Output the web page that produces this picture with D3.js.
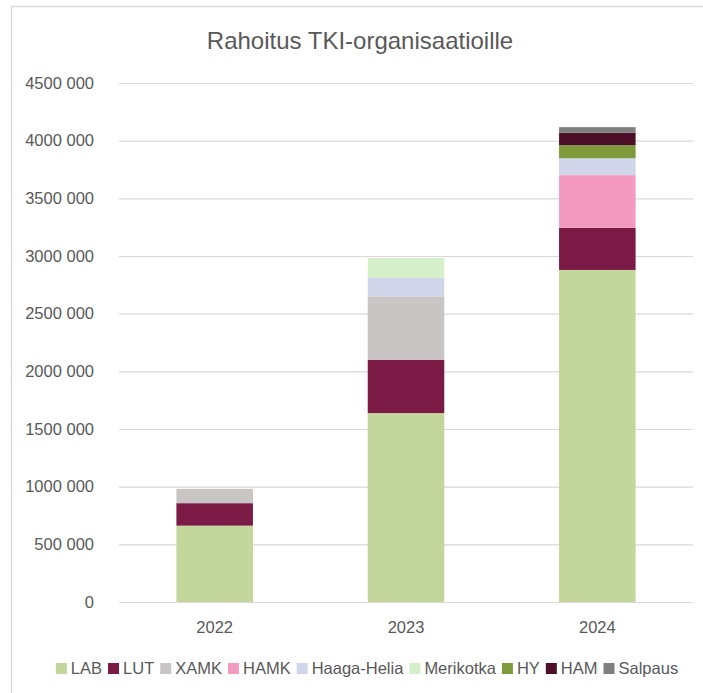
<!DOCTYPE html>
<html>
<head>
<meta charset="utf-8">
<script src="https://cdn.jsdelivr.net/npm/d3@7"></script>
<style>
    body { margin: 0; background: #fff; }
    text { font-family: 'Liberation Sans', Arial, sans-serif; fill: #595959; }
</style>
</head>
<body>
<div id="barchart"></div>
<script>
// Data
var years = ['2022', '2023', '2024'];
var orgs = ['LAB', 'LUT', 'XAMK', 'HAMK', 'Haaga-Helia', 'Merikotka', 'HY', 'HAM', 'Salpaus'];
var LAB = [662000, 1638000, 2879000];
var LUT = [195000, 463000, 365000];
var XAMK = [124000, 549000, 0];
var HAMK = [0, 0, 457000];
var HaagaHelia = [0, 160000, 147000];
var Merikotka = [0, 173000, 0];
var HY = [0, 0, 113000];
var HAM = [0, 0, 107000];
var Salpaus = [0, 0, 49000];
var yTicks = [0, 500000, 1000000, 1500000, 2000000, 2500000, 3000000, 3500000, 4000000, 4500000];
var colors = ['#c3d69b', '#7b1a45', '#c9c5c5', '#f49ac1', '#d0d5ea', '#d5efcb', '#7f9a3b', '#4e1028', '#7f7f7f'];

var seriesValues = [LAB, LUT, XAMK, HAMK, HaagaHelia, Merikotka, HY, HAM, Salpaus];
var table = years.map(function(y, i) {
    var row = { year: y };
    orgs.forEach(function(o, j) { row[o] = seriesValues[j][i]; });
    return row;
});

//Dimension and Margin
var W = 703, H = 693;
var margin = { top: 83, bottom: 91, left: 119, right: 10 },
    width = W - margin.left - margin.right,
    height = H - margin.top - margin.bottom;

var root = d3.select('#barchart')
    .append('svg')
    .attr('width', W)
    .attr('height', H);

// frame
root.append('rect')
    .attr('x', 11.5)
    .attr('y', 6.5)
    .attr('width', 720)
    .attr('height', 720)
    .attr('fill', 'none')
    .attr('stroke', '#d9d9d9')
    .attr('stroke-width', 1.5);

// title
root.append('text')
    .attr('x', 360)
    .attr('y', 49)
    .attr('text-anchor', 'middle')
    .attr('font-size', 24)
    .text('Rahoitus TKI-organisaatioille');

var svg = root.append('g')
    .attr('transform', 'translate(' + margin.left + ',' + margin.top + ')');

var xScale = d3.scaleBand()
    .domain(years)
    .range([0, width])
    .paddingInner(0.6)
    .paddingOuter(0.3);

var yScale = d3.scaleLinear()
    .domain([0, 4500000])
    .range([height, 0]);

var colorScale = d3.scaleOrdinal()
    .domain(orgs)
    .range(colors);

var fmt = function(v) {
    if (v === 0) return '0';
    return Math.floor(v / 1000) + ' ' + d3.format('03d')(v % 1000);
};

//Y grid + labels
var yAxis = svg.append('g')
    .call(d3.axisLeft(yScale).tickValues(yTicks).tickSize(-width).tickFormat(fmt));
yAxis.select('.domain').remove();
yAxis.selectAll('line').attr('stroke', '#d9d9d9').attr('stroke-width', 1.2);
yAxis.selectAll('text')
    .attr('x', -25)
    .attr('font-size', 16.5)
    .attr('font-family', "'Liberation Sans', Arial, sans-serif")
    .style('fill', '#595959');

//X axis
var xAxis = svg.append('g')
    .attr('transform', 'translate(0,' + height + ')')
    .call(d3.axisBottom(xScale).tickSize(0));
xAxis.select('.domain').remove();
xAxis.selectAll('text')
    .attr('y', 19)
    .attr('dy', '0.71em')
    .attr('font-size', 16.5)
    .attr('font-family', "'Liberation Sans', Arial, sans-serif")
    .style('fill', '#595959');

//Stacked bars
var stacked = d3.stack().keys(orgs)(table);

svg.append('g')
    .selectAll('g')
    .data(stacked)
    .enter().append('g')
    .attr('fill', function(d) { return colorScale(d.key); })
    .selectAll('rect')
    .data(function(d) { return d; })
    .enter().append('rect')
    .attr('x', function(d) { return xScale(d.data.year); })
    .attr('y', function(d) { return yScale(d[1]); })
    .attr('width', xScale.bandwidth())
    .attr('height', function(d) { return yScale(d[0]) - yScale(d[1]); });

// Legend
var legend = root.append('g');
var items = legend.selectAll('g')
    .data(orgs)
    .enter().append('g');

items.append('rect')
    .attr('y', 663)
    .attr('width', 11)
    .attr('height', 11)
    .attr('fill', colorScale);

items.append('text')
    .attr('x', 15)
    .attr('y', 674)
    .attr('font-size', 16.5)
    .text(function(d) { return d; });

var widths = [];
items.each(function() {
    widths.push(15 + d3.select(this).select('text').node().getComputedTextLength());
});
var gap = 6;
var total = d3.sum(widths) + gap * (widths.length - 1);
var xPos = 367 - total / 2;
items.attr('transform', function(d, i) {
    var t = 'translate(' + xPos + ',0)';
    xPos += widths[i] + gap;
    return t;
});
</script>
</body>
</html>
